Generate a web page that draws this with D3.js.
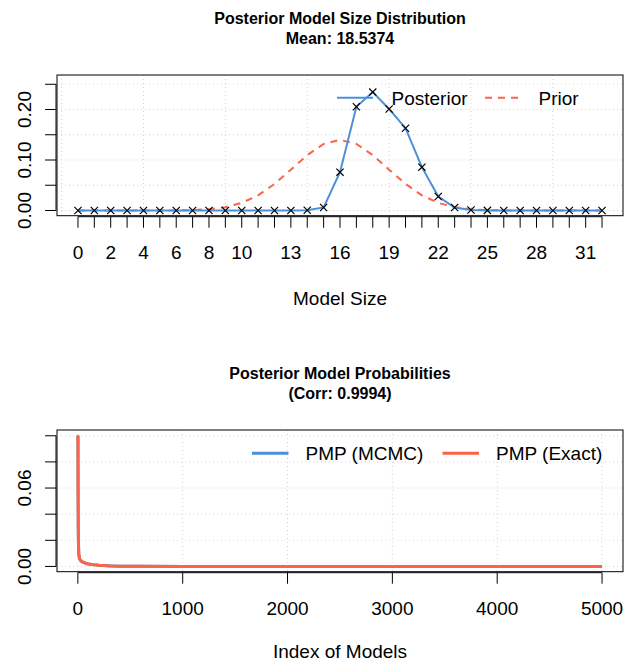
<!DOCTYPE html>
<html>
<head>
<meta charset="utf-8">
<script src="https://cdn.jsdelivr.net/npm/d3@7"></script>
<style>
  html, body { margin: 0; padding: 0; background: #fff; }
  svg { display: block; font-family: "Liberation Sans", Arial, Helvetica, sans-serif; }
</style>
</head>
<body>
<svg id="chart" width="625" height="663"></svg>
<script>
// ---------- DATA ----------
const modelSizes = [0,1,2,3,4,5,6,7,8,9,10,11,12,13,14,15,16,17,18,19,20,21,22,23,24,25,26,27,28,29,30,31,32];
const posteriorSize = [0,0,0,0,0,0,0,0,0,0,0,0,0,0,0.0004,0.0060,0.0759,0.2055,0.2346,0.2010,0.1630,0.0858,0.0277,0.0060,0.0010,0.0002,0,0,0,0,0,0,0];
const priorSize = [0.0000000002,0.0000000075,0.0000001155,0.0000011548,0.0000083726,0.0000468866,0.000211,0.000784,0.002449,0.006531,0.015021,0.030041,0.052571,0.080879,0.109764,0.131717,0.139950,0.131717,0.109764,0.080879,0.052571,0.030041,0.015021,0.006531,0.002449,0.000784,0.000211,0.0000468866,0.0000083726,0.0000011548,0.0000001155,0.0000000075,0.0000000002];
const sizeTickLabels = [0,2,4,6,8,10,13,16,19,22,25,28,31];
const sizeGridX = [-1,4,9,14,19,24,29];
const topYTicks = [0,0.05,0.10,0.15,0.20,0.25];
const topYLabels = [0,0.10,0.20];

const pmpIndex = [1,2,3,4,5,6,8,10,15,20,30,50,75,100,150,200,300,400,600,1000,2000,3000,4000,5000];
const pmpMCMC  = [0.1001,0.0628,0.0415,0.0293,0.0223,0.0173,0.0123,0.0088,0.0064,0.0054,0.0044,0.0033,0.0025,0.0019,0.0014,0.0010,0.00045,0.00022,0.00011,0.00005,0.00002,0.00001,0.000005,0.000002];
const pmpExact = [0.1004,0.0620,0.0410,0.0290,0.0220,0.0170,0.0120,0.0085,0.0062,0.0052,0.0042,0.0031,0.0023,0.0018,0.0013,0.0009,0.0004,0.0002,0.0001,0.00005,0.00002,0.00001,0.000005,0.000002];
const pmpXTicks = [0,1000,2000,3000,4000,5000];
const pmpYTicks = [0,0.02,0.04,0.06,0.08,0.10];
const pmpYLabels = [0,0.06];

const colBlue = "#4a90d9";
const colRed = "#ff6347";
const gridCol = "#d3d3d3";

const svg = d3.select("#chart");
const FONT = 19;
const TFONT = 16;

function expand(lo, hi) { const r = hi - lo; return [lo - 0.04 * r, hi + 0.04 * r]; }

function panel(p) {
  const g = svg.append("g");
  const x = d3.scaleLinear().domain(p.xDom).range([p.left, p.right]);
  const y = d3.scaleLinear().domain(p.yDom).range([p.bottom, p.top]);

  g.selectAll(".gx").data(p.gridX).join("line")
    .attr("x1", d => x(d)).attr("x2", d => x(d))
    .attr("y1", p.top).attr("y2", p.bottom)
    .attr("stroke", gridCol).attr("stroke-width", 1).attr("stroke-dasharray", "1,3");
  g.selectAll(".gy").data(p.yTicks).join("line")
    .attr("x1", p.left).attr("x2", p.right)
    .attr("y1", d => y(d)).attr("y2", d => y(d))
    .attr("stroke", gridCol).attr("stroke-width", 1).attr("stroke-dasharray", "1,3");

  g.append("rect").attr("x", p.left).attr("y", p.top)
    .attr("width", p.right - p.left).attr("height", p.bottom - p.top)
    .attr("fill", "none").attr("stroke", "#000").attr("stroke-width", 1);

  const xa = g.append("g");
  xa.append("line").attr("x1", x(p.xTicks[0])).attr("x2", x(p.xTicks[p.xTicks.length - 1]))
    .attr("y1", p.bottom + 1).attr("y2", p.bottom + 1).attr("stroke", "#000");
  xa.selectAll("line.t").data(p.xTicks).join("line").attr("class", "t")
    .attr("x1", d => x(d)).attr("x2", d => x(d))
    .attr("y1", p.bottom + 1).attr("y2", p.bottom + 12)
    .attr("stroke", "#000").attr("stroke-width", 1);
  xa.selectAll("text").data(p.xLabels).join("text")
    .attr("x", d => x(d)).attr("y", p.bottom + 43)
    .attr("text-anchor", "middle").attr("font-size", FONT).attr("fill", "#000")
    .text(d => p.xFmt(d));

  const ya = g.append("g");
  ya.append("line").attr("x1", p.left - 1).attr("x2", p.left - 1)
    .attr("y1", y(p.yTicks[0])).attr("y2", y(p.yTicks[p.yTicks.length - 1])).attr("stroke", "#000");
  ya.selectAll("line.t").data(p.yTicks).join("line").attr("class", "t")
    .attr("x1", p.left - 12).attr("x2", p.left - 1)
    .attr("y1", d => y(d)).attr("y2", d => y(d))
    .attr("stroke", "#000").attr("stroke-width", 1);
  ya.selectAll("text").data(p.yLabels).join("text")
    .attr("transform", d => `translate(30.5,${y(d)}) rotate(-90)`)
    .attr("text-anchor", "middle").attr("font-size", FONT).attr("fill", "#000")
    .text(d => d3.format(".2f")(d));

  g.append("text").attr("x", (p.left + p.right) / 2).attr("y", p.top - 51)
    .attr("text-anchor", "middle").attr("font-size", TFONT).attr("font-weight", "bold")
    .text(p.title1);
  g.append("text").attr("x", (p.left + p.right) / 2).attr("y", p.top - 31)
    .attr("text-anchor", "middle").attr("font-size", TFONT).attr("font-weight", "bold")
    .text(p.title2);
  g.append("text").attr("x", (p.left + p.right) / 2).attr("y", p.bottom + p.xTitleOff)
    .attr("text-anchor", "middle").attr("font-size", FONT).text(p.xTitle);

  return { g, x, y };
}

// ---------- TOP PANEL ----------
const topMax = d3.max(posteriorSize) * 1.1;
const pTop = panel({
  left: 57, right: 623, top: 75, bottom: 215.7,
  xDom: expand(modelSizes[0], modelSizes[modelSizes.length - 1]),
  yDom: expand(0, topMax),
  gridX: sizeGridX, yTicks: topYTicks, yLabels: topYLabels,
  xTicks: modelSizes, xLabels: sizeTickLabels, xFmt: d => String(d),
  title1: "Posterior Model Size Distribution", title2: "Mean: 18.5374",
  xTitle: "Model Size", xTitleOff: 89
});

const lineTop = d3.line().x((d, i) => pTop.x(modelSizes[i])).y(d => pTop.y(d));
pTop.g.append("path").datum(priorSize).attr("d", lineTop)
  .attr("fill", "none").attr("stroke", colRed).attr("stroke-width", 2).attr("stroke-dasharray", "7,6");
pTop.g.append("path").datum(posteriorSize).attr("d", lineTop)
  .attr("fill", "none").attr("stroke", colBlue).attr("stroke-width", 2);
pTop.g.selectAll("path.mk").data(posteriorSize).join("path").attr("class", "mk")
  .attr("transform", (d, i) => `translate(${pTop.x(modelSizes[i])},${pTop.y(d)})`)
  .attr("d", "M-3.6,-3.6L3.6,3.6M-3.6,3.6L3.6,-3.6")
  .attr("stroke", "#000").attr("stroke-width", 1.2).attr("fill", "none");

const lgT = pTop.g.append("g");
lgT.append("line").attr("x1", 337).attr("x2", 373).attr("y1", 97.7).attr("y2", 97.7)
  .attr("stroke", colBlue).attr("stroke-width", 2);
lgT.append("text").attr("x", 391.5).attr("y", 104.5).attr("font-size", FONT).text("Posterior");
lgT.append("line").attr("x1", 485).attr("x2", 522).attr("y1", 97.7).attr("y2", 97.7)
  .attr("stroke", colRed).attr("stroke-width", 2).attr("stroke-dasharray", "7,6");
lgT.append("text").attr("x", 538.5).attr("y", 104.5).attr("font-size", FONT).text("Prior");

// ---------- BOTTOM PANEL ----------
const pmpMax = Math.max(d3.max(pmpMCMC), d3.max(pmpExact));
const pBot = panel({
  left: 57, right: 623, top: 430, bottom: 571.7,
  xDom: expand(pmpIndex[0], pmpIndex[pmpIndex.length - 1]),
  yDom: expand(0, pmpMax),
  gridX: pmpXTicks, yTicks: pmpYTicks, yLabels: pmpYLabels,
  xTicks: pmpXTicks, xLabels: pmpXTicks, xFmt: d => String(d),
  title1: "Posterior Model Probabilities", title2: "(Corr: 0.9994)",
  xTitle: "Index of Models", xTitleOff: 86.5
});

const lineBot = d3.line().x((d, i) => pBot.x(pmpIndex[i])).y(d => pBot.y(d));
pBot.g.append("path").datum(pmpMCMC).attr("d", lineBot)
  .attr("fill", "none").attr("stroke", colBlue).attr("stroke-width", 3).attr("stroke-linejoin", "round");
pBot.g.append("path").datum(pmpExact).attr("d", lineBot)
  .attr("fill", "none").attr("stroke", colRed).attr("stroke-width", 3).attr("stroke-linejoin", "round");

const lgB = pBot.g.append("g");
lgB.append("line").attr("x1", 252).attr("x2", 288.5).attr("y1", 453.3).attr("y2", 453.3)
  .attr("stroke", colBlue).attr("stroke-width", 3);
lgB.append("text").attr("x", 305.5).attr("y", 460).attr("font-size", FONT).text("PMP (MCMC)");
lgB.append("line").attr("x1", 442.5).attr("x2", 479).attr("y1", 453.3).attr("y2", 453.3)
  .attr("stroke", colRed).attr("stroke-width", 3);
lgB.append("text").attr("x", 496).attr("y", 460).attr("font-size", FONT).text("PMP (Exact)");
</script>
</body>
</html>
